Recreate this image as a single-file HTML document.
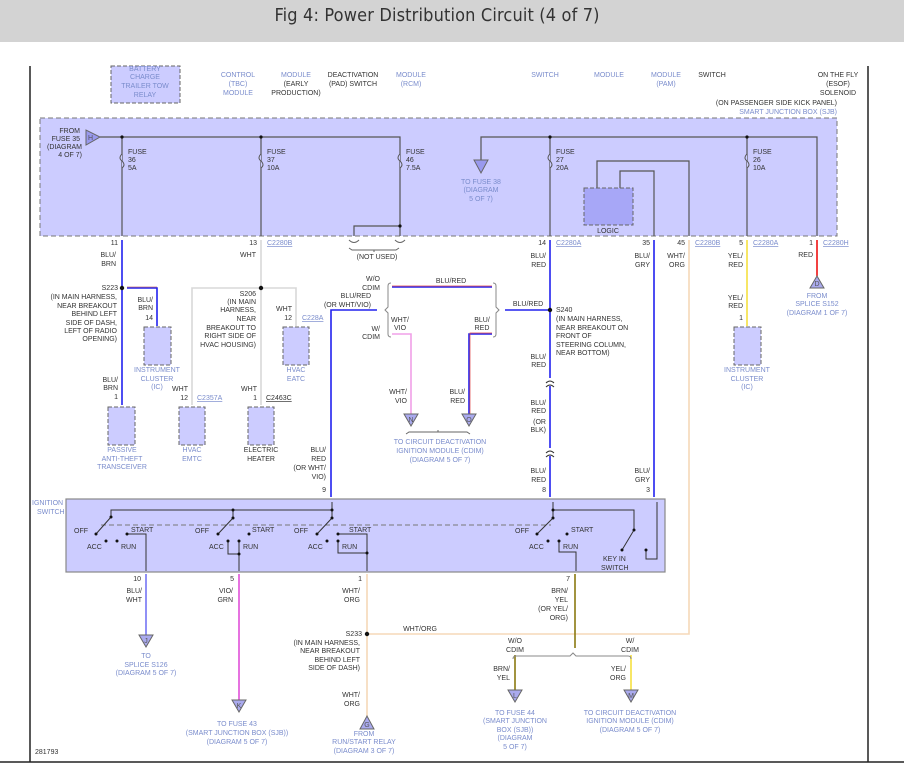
<!DOCTYPE html>
<html><head><style>
body{margin:0;background:#fff;}
svg{display:block;font-family:"Liberation Sans",sans-serif;}
.t{font-size:7px;fill:#333;}
.b{font-size:7px;fill:#7a8ccc;}
.r{text-anchor:end}
.m{text-anchor:middle}
</style></head><body>
<svg width="904" height="777" viewBox="0 0 904 777" xmlns="http://www.w3.org/2000/svg">
<rect x="0" y="0" width="904" height="42" fill="#d3d3d3"/>
<text x="437" y="21" font-size="18" fill="#333" text-anchor="middle" style="font-family:'DejaVu Sans Condensed','Liberation Sans Narrow',sans-serif" textLength="325">Fig 4: Power Distribution Circuit (4 of 7)</text>
<line x1="30" y1="66" x2="30" y2="762" stroke="#222" stroke-width="1.5"/>
<line x1="868" y1="66" x2="868" y2="762" stroke="#222" stroke-width="1.5"/>
<line x1="0" y1="762" x2="904" y2="762" stroke="#222" stroke-width="1.5"/>

<!-- top labels -->
<rect x="111" y="66" width="69" height="37" fill="#ccccff" stroke="#666" stroke-dasharray="4,2"/>
<g class="b m">
<text x="145" y="71">BATTERY</text><text x="145" y="79">CHARGE</text><text x="145" y="88">TRAILER TOW</text><text x="145" y="97">RELAY</text>
<text x="238" y="77">CONTROL</text><text x="238" y="86">(TBC)</text><text x="238" y="95">MODULE</text>
<text x="296" y="77">MODULE</text>
<text x="411" y="77">MODULE</text><text x="411" y="86">(RCM)</text>
<text x="545" y="77">SWITCH</text><text x="609" y="77">MODULE</text>
<text x="666" y="77">MODULE</text><text x="666" y="86">(PAM)</text>
<text x="837" y="114" class="b r" style="text-anchor:end">SMART JUNCTION BOX (SJB)</text>
</g>
<g class="t m">
<text x="296" y="86">(EARLY</text><text x="296" y="95">PRODUCTION)</text>
<text x="353" y="77">DEACTIVATION</text><text x="353" y="86">(PAD) SWITCH</text>
<text x="712" y="77">SWITCH</text>
<text x="838" y="77">ON THE FLY</text><text x="838" y="86">(ESOF)</text><text x="838" y="95">SOLENOID</text>
<text x="837" y="105" class="r" style="text-anchor:end">(ON PASSENGER SIDE KICK PANEL)</text>
</g>

<!-- SJB -->
<rect x="40" y="118" width="797" height="118" fill="#ccccff" stroke="#777" stroke-dasharray="5,3"/>
<polygon points="86,130 86,145 100,137" fill="#9999ee" stroke="#666"/>
<text x="88" y="140" font-size="7" fill="#555">H</text>
<g class="t r" style="text-anchor:end"><text x="80" y="133">FROM</text><text x="80" y="141">FUSE 35</text><text x="82" y="149">(DIAGRAM</text><text x="82" y="157">4 OF 7)</text></g>
<g stroke="#555" fill="none" stroke-width="1.2">
<polyline points="100,137 400,137 400,226"/>
<polyline points="481,170 481,137 817,137 817,236"/>
<line x1="122" y1="137" x2="122" y2="236"/>
<line x1="261" y1="137" x2="261" y2="236"/>
<line x1="550" y1="137" x2="550" y2="236"/>
<line x1="747" y1="137" x2="747" y2="236"/>
<polyline points="354,236 354,226 400,226 400,236"/>
<polyline points="597,188 597,161 689,161 689,236"/>
<polyline points="620,188 620,171 654,171 654,236"/>
</g>
<g fill="#ccccff" stroke="#555" stroke-width="1">
<path d="M122,154 q-4,4 0,7 q4,4 0,7"/><path d="M261,154 q-4,4 0,7 q4,4 0,7"/><path d="M400,154 q-4,4 0,7 q4,4 0,7"/><path d="M550,154 q-4,4 0,7 q4,4 0,7"/><path d="M747,154 q-4,4 0,7 q4,4 0,7"/>
</g>
<g fill="#111"><circle cx="122" cy="137" r="1.6"/><circle cx="261" cy="137" r="1.6"/><circle cx="550" cy="137" r="1.6"/><circle cx="747" cy="137" r="1.6"/><circle cx="400" cy="226" r="1.6"/></g>
<g class="t"><text x="128" y="154">FUSE</text><text x="128" y="162">36</text><text x="128" y="170">5A</text>
<text x="267" y="154">FUSE</text><text x="267" y="162">37</text><text x="267" y="170">10A</text>
<text x="406" y="154">FUSE</text><text x="406" y="162">46</text><text x="406" y="170">7.5A</text>
<text x="556" y="154">FUSE</text><text x="556" y="162">27</text><text x="556" y="170">20A</text>
<text x="753" y="154">FUSE</text><text x="753" y="162">26</text><text x="753" y="170">10A</text></g>
<polygon points="474,160 488,160 481,173" fill="#9999ee" stroke="#666"/>
<g class="b m"><text x="481" y="184">TO FUSE 38</text><text x="481" y="192">(DIAGRAM</text><text x="481" y="201">5 OF 7)</text></g>
<rect x="584" y="188" width="49" height="37" fill="#a7a7f7" stroke="#666" stroke-dasharray="4,2"/>
<text x="608" y="233" class="t m">LOGIC</text>

<!-- connector labels row -->
<g class="t r" style="text-anchor:end"><text x="118" y="245">11</text><text x="257" y="245">13</text><text x="546" y="245">14</text><text x="650" y="245">35</text><text x="685" y="245">45</text><text x="743" y="245">5</text><text x="813" y="245">1</text></g>
<g class="b" text-decoration="underline"><text x="267" y="245">C2280B</text><text x="556" y="245">C2280A</text><text x="695" y="245">C2280B</text><text x="753" y="245">C2280A</text><text x="823" y="245">C2280H</text></g>
<path d="M349,240 q5,5 10,0 M395,240 q5,5 10,0 M349,248 l3,2 h44 l3,-2 M374,250 v2" stroke="#666" fill="none"/>
<text x="377" y="259" class="t m">(NOT USED)</text>

<!-- wires -->
<g fill="none" stroke-width="1.6">
<line x1="122" y1="240" x2="122" y2="405" stroke="#2222ee"/>
<polyline points="127,288 157,288 157,326" stroke="#2222ee"/>
<polyline points="127,287 157,287" stroke="#aa3333" stroke-width="0.6"/>
<line x1="261" y1="240" x2="261" y2="405" stroke="#d8d8d8"/>
<polyline points="192,405 192,288 296,288 296,326" stroke="#d8d8d8"/>
<polyline points="331,497 331,310 377,310" stroke="#2222ee"/>
<polyline points="392,287 492,287" stroke="#2222ee"/><polyline points="392,286 492,286" stroke="#e04444" stroke-width="0.7"/>
<polyline points="505,310 550,310" stroke="#2222ee"/>
<polyline points="392,334 411,334 411,414" stroke="#f0a0e8"/>
<polyline points="492,334 469,334 469,414" stroke="#2222ee"/><polyline points="492,333 470,333 470,414" stroke="#e04444" stroke-width="0.7"/>
<line x1="550" y1="240" x2="550" y2="378" stroke="#2222ee"/>
<line x1="550" y1="386" x2="550" y2="448" stroke="#2222ee"/>
<line x1="550" y1="456" x2="550" y2="497" stroke="#2222ee"/>
<line x1="654" y1="240" x2="654" y2="497" stroke="#2222ee"/>
<polyline points="689,240 689,634 367,634" stroke="#f5d8b8"/>
<line x1="747" y1="240" x2="747" y2="326" stroke="#f5e040"/>
<line x1="817" y1="240" x2="817" y2="276" stroke="#ee1111"/>
<line x1="146" y1="574" x2="146" y2="635" stroke="#2222ee" stroke-width="1"/>
<line x1="239" y1="574" x2="239" y2="700" stroke="#e050d8"/>
<line x1="367" y1="574" x2="367" y2="716" stroke="#f5d8b8"/>
<line x1="575" y1="574" x2="575" y2="648" stroke="#8a7a10"/>
<line x1="515" y1="655" x2="515" y2="690" stroke="#8a7a10"/>
<line x1="631" y1="655" x2="631" y2="690" stroke="#f5e040"/>
</g>
<path d="M546,383 q4,-4 8,0 M546,387 q4,-4 8,0 M546,453 q4,-4 8,0 M546,457 q4,-4 8,0" stroke="#333" fill="none"/>
<g fill="#111"><circle cx="122" cy="288" r="2.2"/><circle cx="261" cy="288" r="2.2"/><circle cx="550" cy="310" r="2.2"/><circle cx="367" cy="634" r="2.2"/></g>
<!-- brackets -->
<path d="M391,283 q-3,0 -3,3 v21 l-3,3 l3,3 v21 q0,3 3,3 M493,283 q3,0 3,3 v21 l3,3 l-3,3 v21 q0,3 -3,3 M513,659 q0,-3 3,-3 h54 l3,-3 l3,3 h52 q3,0 3,3" stroke="#888" fill="none"/>

<!-- components -->
<g fill="#ccccff" stroke="#666" stroke-dasharray="4,2">
<rect x="108" y="407" width="27" height="38"/><rect x="144" y="327" width="27" height="38"/>
<rect x="179" y="407" width="26" height="38"/><rect x="248" y="407" width="26" height="38"/>
<rect x="283" y="327" width="26" height="38"/><rect x="734" y="327" width="27" height="38"/>
</g>
<g fill="#aaaaee" stroke="#666">
<polygon points="404,414 418,414 411,426"/><polygon points="462,414 476,414 469,426"/>
<polygon points="810,288 824,288 817,276"/>
<polygon points="139,635 153,635 146,647"/><polygon points="232,700 246,700 239,712"/>
<polygon points="360,729 374,729 367,716"/><polygon points="508,690 522,690 515,702"/><polygon points="624,690 638,690 631,702"/>
</g>
<g font-size="7" fill="#555" class="m"><text x="411" y="422">N</text><text x="469" y="422">O</text><text x="817" y="286">D</text><text x="146" y="643">J</text><text x="239" y="708">K</text><text x="367" y="727">G</text><text x="515" y="698">L</text><text x="631" y="698">M</text></g>

<!-- mid labels -->
<g class="t r" style="text-anchor:end">
<text x="116" y="257">BLU/</text><text x="116" y="266">BRN</text>
<text x="118" y="290">S223</text>
<text x="117" y="299">(IN MAIN HARNESS,</text><text x="117" y="308">NEAR BREAKOUT</text><text x="117" y="316">BEHIND LEFT</text><text x="117" y="325">SIDE OF DASH,</text><text x="117" y="333">LEFT OF RADIO</text><text x="117" y="341">OPENING)</text>
<text x="153" y="302">BLU/</text><text x="153" y="310">BRN</text><text x="153" y="320">14</text>
<text x="118" y="382">BLU/</text><text x="118" y="390">BRN</text><text x="118" y="399">1</text>
<text x="256" y="257">WHT</text>
<text x="256" y="296">S206</text>
<text x="256" y="304">(IN MAIN</text><text x="256" y="312">HARNESS,</text><text x="256" y="321">NEAR</text><text x="256" y="330">BREAKOUT TO</text><text x="256" y="338">RIGHT SIDE OF</text><text x="256" y="347">HVAC HOUSING)</text>
<text x="292" y="311">WHT</text><text x="292" y="320">12</text>
<text x="188" y="391">WHT</text><text x="188" y="400">12</text>
<text x="257" y="391">WHT</text><text x="257" y="400">1</text>
<text x="380" y="281">W/O</text><text x="380" y="290">CDIM</text>
<text x="371" y="298">BLU/RED</text><text x="371" y="307">(OR WHT/VIO)</text>
<text x="380" y="331">W/</text><text x="380" y="339">CDIM</text>
<text x="407" y="394">WHT/</text><text x="407" y="403">VIO</text>
<text x="465" y="394">BLU/</text><text x="465" y="403">RED</text>
<text x="326" y="452">BLU/</text><text x="326" y="461">RED</text><text x="326" y="470">(OR WHT/</text><text x="326" y="479">VIO)</text><text x="326" y="492">9</text>
<text x="546" y="258">BLU/</text><text x="546" y="267">RED</text>
<text x="546" y="359">BLU/</text><text x="546" y="367">RED</text>
<text x="546" y="405">BLU/</text><text x="546" y="413">RED</text><text x="546" y="424">(OR</text><text x="546" y="432">BLK)</text>
<text x="546" y="473">BLU/</text><text x="546" y="482">RED</text><text x="546" y="492">8</text>
<text x="650" y="258">BLU/</text><text x="650" y="267">GRY</text>
<text x="650" y="473">BLU/</text><text x="650" y="482">GRY</text><text x="650" y="492">3</text>
<text x="685" y="258">WHT/</text><text x="685" y="267">ORG</text>
<text x="743" y="258">YEL/</text><text x="743" y="267">RED</text>
<text x="743" y="300">YEL/</text><text x="743" y="308">RED</text><text x="743" y="320">1</text>
<text x="813" y="257">RED</text>
</g>
<g class="t m"><text x="451" y="283">BLU/RED</text><text x="528" y="306">BLU/RED</text><text x="400" y="322">WHT/</text><text x="400" y="330">VIO</text><text x="482" y="322">BLU/</text><text x="482" y="330">RED</text></g>
<g class="t"><text x="556" y="312">S240</text><text x="556" y="321">(IN MAIN HARNESS,</text><text x="556" y="330">NEAR BREAKOUT ON</text><text x="556" y="338">FRONT OF</text><text x="556" y="347">STEERING COLUMN,</text><text x="556" y="355">NEAR BOTTOM)</text></g>
<g class="b" text-decoration="underline"><text x="197" y="400">C2357A</text><text x="302" y="320">C228A</text></g>
<text x="266" y="400" class="t" text-decoration="underline">C2463C</text>
<g class="b m">
<text x="157" y="372">INSTRUMENT</text><text x="157" y="381">CLUSTER</text><text x="157" y="389">(IC)</text>
<text x="122" y="452">PASSIVE</text><text x="122" y="461">ANTI-THEFT</text><text x="122" y="469">TRANSCEIVER</text>
<text x="192" y="452">HVAC</text><text x="192" y="461">EMTC</text>
<text x="296" y="372">HVAC</text><text x="296" y="381">EATC</text>
<text x="747" y="372">INSTRUMENT</text><text x="747" y="381">CLUSTER</text><text x="747" y="389">(IC)</text>
<text x="817" y="298">FROM</text><text x="817" y="306">SPLICE S152</text><text x="817" y="315">(DIAGRAM 1 OF 7)</text>
<text x="440" y="444">TO CIRCUIT DEACTIVATION</text><text x="440" y="453">IGNITION MODULE (CDIM)</text><text x="440" y="462">(DIAGRAM 5 OF 7)</text>
</g>
<g class="t m"><text x="261" y="452">ELECTRIC</text><text x="261" y="461">HEATER</text></g>
<path d="M406,434 l3,-2 h58 l3,2 M438,432 v-2" stroke="#666" fill="none"/>

<!-- ignition switch -->
<rect x="66" y="499" width="599" height="73" fill="#ccccff" stroke="#888" stroke-width="1.2"/>
<g class="b"><text x="32" y="505">IGNITION</text><text x="37" y="514">SWITCH</text></g>
<line x1="101" y1="525" x2="551" y2="525" stroke="#777" stroke-dasharray="5,3"/>
<g stroke="#333" fill="none" stroke-width="1">
<polyline points="111,517 111,510 332,510 332,502"/>
<line x1="233" y1="510" x2="233" y2="518"/><line x1="332" y1="510" x2="332" y2="518"/>
<line x1="111" y1="517" x2="96" y2="534"/>
<line x1="233" y1="518" x2="218" y2="534"/>
<line x1="332" y1="518" x2="317" y2="534"/>
<polyline points="127,534 146,534 146,571"/>
<polyline points="228,541 228,554 239,554"/><polyline points="239,541 239,571"/>
<polyline points="338,534 367,534 367,571"/>
<polyline points="338,541 338,553 367,553"/>
<polyline points="553,502 553,510 553,518 537,534"/>
<polyline points="553,510 634,510 634,530 622,550"/>
<polyline points="559,541 559,552 576,552 576,571"/>
<polyline points="646,550 646,559 657,559 657,502"/>
</g>
<g fill="#111">
<circle cx="233" cy="510" r="1.5"/><circle cx="332" cy="510" r="1.5"/><circle cx="553" cy="510" r="1.5"/>
<circle cx="111" cy="517" r="1.5"/><circle cx="96" cy="534" r="1.5"/><circle cx="127" cy="534" r="1.5"/><circle cx="106" cy="541" r="1.5"/><circle cx="117" cy="541" r="1.5"/>
<circle cx="233" cy="518" r="1.5"/><circle cx="218" cy="534" r="1.5"/><circle cx="249" cy="534" r="1.5"/><circle cx="228" cy="541" r="1.5"/><circle cx="239" cy="541" r="1.5"/><circle cx="239" cy="554" r="1.5"/>
<circle cx="332" cy="518" r="1.5"/><circle cx="317" cy="534" r="1.5"/><circle cx="338" cy="534" r="1.5"/><circle cx="327" cy="541" r="1.5"/><circle cx="338" cy="541" r="1.5"/><circle cx="367" cy="553" r="1.5"/>
<circle cx="553" cy="518" r="1.5"/><circle cx="537" cy="534" r="1.5"/><circle cx="567" cy="534" r="1.5"/><circle cx="548" cy="541" r="1.5"/><circle cx="559" cy="541" r="1.5"/>
<circle cx="634" cy="530" r="1.5"/><circle cx="622" cy="550" r="1.5"/><circle cx="646" cy="550" r="1.5"/>
</g>
<g class="t">
<text x="74" y="533">OFF</text><text x="131" y="532">START</text><text x="87" y="549">ACC</text><text x="121" y="549">RUN</text>
<text x="195" y="533">OFF</text><text x="252" y="532">START</text><text x="209" y="549">ACC</text><text x="243" y="549">RUN</text>
<text x="294" y="533">OFF</text><text x="349" y="532">START</text><text x="308" y="549">ACC</text><text x="342" y="549">RUN</text>
<text x="515" y="533">OFF</text><text x="571" y="532">START</text><text x="529" y="549">ACC</text><text x="563" y="549">RUN</text>
<text x="603" y="561">KEY IN</text><text x="601" y="570">SWITCH</text>
</g>
<g class="t r" style="text-anchor:end">
<text x="141" y="581">10</text><text x="234" y="581">5</text><text x="362" y="581">1</text><text x="570" y="581">7</text>
<text x="142" y="593">BLU/</text><text x="142" y="602">WHT</text>
<text x="233" y="593">VIO/</text><text x="233" y="602">GRN</text>
<text x="360" y="593">WHT/</text><text x="360" y="602">ORG</text>
<text x="568" y="593">BRN/</text><text x="568" y="602">YEL</text><text x="568" y="611">(OR YEL/</text><text x="568" y="620">ORG)</text>
<text x="362" y="636">S233</text>
<text x="360" y="645">(IN MAIN HARNESS,</text><text x="360" y="653">NEAR BREAKOUT</text><text x="360" y="662">BEHIND LEFT</text><text x="360" y="670">SIDE OF DASH)</text>
<text x="360" y="697">WHT/</text><text x="360" y="706">ORG</text>
<text x="510" y="671">BRN/</text><text x="510" y="680">YEL</text>
<text x="626" y="671">YEL/</text><text x="626" y="680">ORG</text>
</g>
<g class="t m"><text x="420" y="631">WHT/ORG</text><text x="515" y="643">W/O</text><text x="515" y="652">CDIM</text><text x="630" y="643">W/</text><text x="630" y="652">CDIM</text></g>
<g class="b m">
<text x="146" y="658">TO</text><text x="146" y="667">SPLICE S126</text><text x="146" y="675">(DIAGRAM 5 OF 7)</text>
<text x="237" y="726">TO FUSE 43</text><text x="237" y="735">(SMART JUNCTION BOX (SJB))</text><text x="237" y="744">(DIAGRAM 5 OF 7)</text>
<text x="364" y="736">FROM</text><text x="364" y="744">RUN/START RELAY</text><text x="364" y="753">(DIAGRAM 3 OF 7)</text>
<text x="515" y="715">TO FUSE 44</text><text x="515" y="723">(SMART JUNCTION</text><text x="515" y="732">BOX (SJB))</text><text x="515" y="740">(DIAGRAM</text><text x="515" y="749">5 OF 7)</text>
<text x="630" y="715">TO CIRCUIT DEACTIVATION</text><text x="630" y="723">IGNITION MODULE (CDIM)</text><text x="630" y="732">(DIAGRAM 5 OF 7)</text>
</g>
<text x="35" y="754" class="t">281793</text>
</svg>
</body></html>
